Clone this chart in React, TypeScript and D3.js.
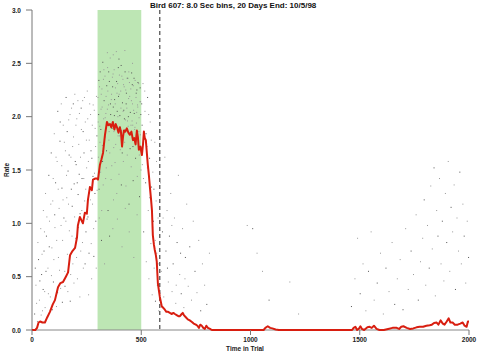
import React from 'react';
import * as d3 from 'd3';

const title = 'Bird 607: 8.0 Sec bins, 20 Days End: 10/5/98';
const xTicks = [0, 500, 1000, 1500, 2000];
const yTicks = [0, 0.5, 1.0, 1.5, 2.0, 2.5, 3.0];
const bandStart = 300;
const bandEnd = 500;
const markerTime = 585;

// smoothed rate (red line)
const rateTime = [0, 15, 23, 30, 37, 48, 59, 70, 82, 95, 105, 119, 130, 142, 155, 165, 174, 185, 197, 206, 210, 219, 226, 233, 242, 251, 256, 265, 274, 279, 290, 297, 302, 311, 318, 325, 334, 343, 350, 357, 363, 370, 377, 383, 389, 396, 402, 407, 412, 417, 421, 427, 434, 441, 448, 455, 462, 468, 474, 480, 485, 489, 496, 503, 508, 512, 516, 521, 526, 530, 535, 540, 545, 549, 553, 558, 562, 567, 571, 576, 580, 585, 590, 594, 600, 608, 615, 623, 631, 640, 647, 654, 662, 670, 677, 685, 690, 695, 704, 713, 722, 732, 740, 750, 757, 764, 770, 777, 784, 791, 798, 805, 815, 823, 900, 1000, 1060, 1068, 1079, 1090, 1100, 1115, 1130, 1300, 1400, 1465, 1472, 1480, 1488, 1495, 1503, 1510, 1520, 1535, 1545, 1555, 1565, 1577, 1590, 1610, 1630, 1650, 1669, 1680, 1690, 1700, 1715, 1730, 1745, 1760, 1774, 1790, 1805, 1820, 1830, 1840, 1852, 1860, 1870, 1880, 1888, 1898, 1907, 1915, 1925, 1935, 1948, 1960, 1971, 1980, 1989, 1995, 2000];
const rateValue = [0, 0, 0.02, 0.07, 0.08, 0.07, 0.07, 0.12, 0.17, 0.24, 0.28, 0.4, 0.44, 0.45, 0.5, 0.54, 0.7, 0.74, 0.77, 0.87, 0.98, 1.06, 1.03, 1.0, 1.1, 1.09, 1.22, 1.34, 1.31, 1.41, 1.42, 1.42, 1.41, 1.55, 1.6, 1.66, 1.83, 1.95, 1.92, 1.93, 1.9, 1.95, 1.88, 1.93, 1.9, 1.85, 1.9, 1.86, 1.72, 1.82, 1.87, 1.86, 1.89, 1.85, 1.83, 1.86, 1.78, 1.8, 1.74, 1.87, 1.8, 1.69, 1.72, 1.64, 1.74, 1.86, 1.8, 1.78, 1.65, 1.55, 1.45, 1.33, 1.22, 1.12, 0.89, 0.8, 0.75, 0.7, 0.64, 0.44, 0.38, 0.31, 0.26, 0.22, 0.21, 0.19, 0.17, 0.17, 0.16, 0.15, 0.16, 0.15, 0.14, 0.13, 0.13, 0.15, 0.16, 0.14, 0.12, 0.1, 0.09, 0.075, 0.06, 0.05, 0.04, 0.02, 0.05, 0.04, 0.02, 0.01, 0.04, 0.02, 0.01, 0, 0, 0, 0, 0.02, 0.035, 0.02, 0.015, 0.005, 0, 0, 0, 0, 0.02, 0.03, 0, 0.01, 0.035, 0.01, 0, 0.025, 0.03, 0.02, 0.04, 0.01, 0, 0, 0.01, 0.02, 0.02, 0.01, 0.03, 0.035, 0.02, 0.01, 0.015, 0.025, 0.03, 0.03, 0.04, 0.045, 0.05, 0.065, 0.07, 0.05, 0.09, 0.06, 0.05, 0.08, 0.11, 0.07, 0.07, 0.05, 0.05, 0.06, 0.07, 0.04, 0.03, 0.08, 0.08];

// individual trial rates (dots)
const dotsEarly = [[12,0.15],[18,0.42],[25,0.08],[30,0.66],[34,0.28],[40,0.95],[44,0.52],[48,0.18],[52,1.12],[55,0.74],[58,0.36],[62,1.28],[66,0.88],[70,0.12],[73,0.58],[77,1.45],[80,1.02],[84,0.31],[88,1.66],[91,0.77],[95,1.21],[98,0.45],[102,1.84],[105,0.96],[108,1.38],[112,0.22],[115,1.58],[118,2.05],[121,0.68],[124,1.14],[128,1.77],[131,0.39],[134,2.12],[137,1.33],[140,0.84],[143,1.92],[146,1.05],[150,0.55],[153,1.68],[156,2.18],[159,1.24],[162,0.71],[165,1.49],[168,1.97],[171,0.93],[175,0.27],[178,1.62],[181,2.08],[184,1.16],[187,0.62],[190,1.81],[193,1.37],[196,2.21],[199,0.86],[202,1.55],[205,1.98],[208,0.48],[211,1.27],[214,1.74],[217,2.03],[220,1.09],[223,0.74],[226,1.88],[229,1.42],[232,2.15],[235,0.58],[238,1.66],[241,1.21],[244,1.95],[247,0.92],[250,1.52],[253,2.24],[256,1.06],[259,0.33],[262,1.78],[265,1.34],[268,2.02],[271,0.81],[274,1.61],[277,1.18],[280,2.11],[283,0.69],[286,1.47],[289,1.89],[292,1.02],[295,2.19],[298,1.31]];
const dotsEarlyMore = [[15,0.58],[21,0.25],[27,0.82],[36,0.46],[42,0.14],[46,0.71],[51,0.38],[57,0.92],[60,0.21],[64,0.55],[68,1.06],[75,0.34],[79,0.78],[86,1.18],[89,0.51],[93,0.19],[97,1.42],[100,0.66],[104,1.08],[110,1.62],[113,0.84],[117,0.35],[120,1.32],[126,0.56],[129,1.95],[133,0.98],[136,1.54],[139,0.26],[142,1.22],[148,1.76],[151,0.41],[155,1.02],[158,1.45],[161,1.86],[164,0.36],[167,1.18],[170,1.64],[174,2.02],[177,0.52],[180,1.32],[183,0.88],[186,1.72],[189,2.12],[192,0.44],[195,1.06],[198,1.58],[201,1.92],[204,0.68],[207,1.38],[210,2.15],[213,0.96],[216,1.46],[219,0.31],[222,1.62],[225,2.08],[228,1.12],[231,0.82],[234,1.86],[237,1.42],[240,2.18],[243,0.62],[246,1.32],[249,1.78],[252,1.04],[255,1.98],[258,1.58],[261,0.72],[264,2.12],[267,1.22],[270,1.68],[273,0.48],[276,1.92],[279,1.44],[282,0.95],[285,2.06],[288,1.28],[291,1.72],[294,0.58],[297,1.82]];
const dotsBand = [[302,2.18],[304,1.62],[306,2.34],[308,1.05],[310,1.91],[312,2.42],[314,1.48],[316,2.07],[318,0.84],[320,2.26],[322,1.73],[324,2.51],[326,1.36],[328,1.98],[330,2.15],[332,0.62],[334,2.38],[336,1.84],[338,2.03],[340,1.52],[342,2.29],[344,1.95],[346,2.46],[348,1.12],[350,2.11],[352,1.78],[354,2.33],[356,1.66],[358,2.55],[360,2.02],[362,1.41],[364,2.21],[366,1.89],[368,2.37],[370,0.95],[372,2.09],[374,1.71],[376,2.44],[378,2.16],[380,1.57],[382,2.27],[384,1.93],[386,2.61],[388,1.28],[390,2.05],[392,2.31],[394,1.82],[396,2.19],[398,1.46],[400,2.39],[402,2.01],[404,1.69],[406,2.24],[408,2.48],[410,1.87],[412,0.78],[414,2.13],[416,2.35],[418,1.58],[420,2.06],[422,2.28],[424,1.76],[426,2.42],[428,1.97],[430,1.35],[432,2.22],[434,2.08],[436,1.64],[438,2.36],[440,1.91],[442,2.17],[444,1.18],[446,2.32],[448,1.85],[450,2.04],[452,2.26],[454,1.53],[456,2.41],[458,1.96],[460,2.12],[462,1.72],[464,2.29],[466,0.68],[468,2.03],[470,1.88],[472,2.34],[474,1.61],[476,2.18],[478,1.94],[480,2.25],[482,1.44],[484,2.09],[486,1.79],[488,2.31],[490,1.99],[492,1.25],[494,2.14],[496,1.83],[498,2.02],[303,1.95],[309,2.28],[315,1.88],[321,2.09],[327,2.35],[333,1.81],[339,2.19],[345,2.07],[351,2.42],[357,1.93],[363,2.16],[369,2.28],[375,1.86],[381,2.12],[387,2.33],[393,2.0],[399,2.21],[405,1.9],[411,2.38],[417,2.05],[423,1.98],[429,2.25],[435,2.36],[441,2.0],[447,2.19],[453,1.92],[459,2.3],[465,2.06],[471,1.9],[477,2.22],[483,2.11],[489,1.86],[495,2.27],[345,2.6],[372,2.58],[398,2.54],[425,2.62],[460,2.5]];
const dotsBandMore = [[305,2.02],[311,1.76],[317,2.21],[323,1.58],[329,2.44],[335,1.99],[341,1.68],[347,2.24],[353,1.86],[359,2.12],[365,1.54],[371,2.4],[377,2.01],[383,1.74],[389,2.22],[395,2.46],[401,1.82],[407,2.08],[413,1.66],[419,2.3],[425,1.88],[431,2.12],[437,1.96],[443,2.42],[449,1.7],[455,2.15],[461,1.92],[467,2.36],[473,1.78],[479,2.04],[485,2.32],[491,1.64],[497,2.14],[307,1.32],[319,1.12],[337,1.42],[355,0.88],[373,1.22],[391,1.04],[409,1.36],[427,1.14],[445,0.92],[463,1.4],[481,1.08],[499,1.5]];
const dotsLate = [[502,2.12],[505,1.55],[508,2.31],[511,0.92],[514,1.86],[517,2.05],[520,1.38],[523,0.64],[526,1.72],[529,2.18],[532,1.12],[535,0.48],[538,1.61],[541,1.95],[544,0.81],[547,1.34],[550,0.33],[553,1.48],[556,1.02],[559,0.58],[562,1.76],[565,0.27],[568,1.21],[571,0.72],[574,0.42],[577,1.05],[580,0.18],[504,1.92],[510,1.42],[516,2.24],[522,1.84],[528,1.52],[534,2.02],[540,1.24],[546,1.78],[552,0.96],[558,1.32],[564,0.84],[570,1.58],[576,0.62],[588,1.38],[592,0.55],[597,0.92],[603,0.31],[608,1.62],[613,0.74],[618,1.12],[624,0.45],[629,0.88],[635,1.28],[641,0.36],[646,0.62],[652,1.05],[658,0.25],[664,0.82],[670,1.45],[676,0.52],[683,0.34],[689,0.95],[695,0.21],[702,0.68],[708,1.18],[715,0.41],[722,0.78],[730,0.28],[738,1.02],[746,0.55],[755,0.35],[763,0.84],[772,0.18],[780,0.62],[790,0.42],[800,0.24],[812,0.72],[600,1.05],[620,0.58],[640,0.98],[660,0.42],[680,0.72],[700,0.48],[985,0.98],[1010,0.95],[1030,0.72],[1055,0.55],[1085,0.28],[1180,0.45],[1220,0.15]];
const dotsTail = [[1462,0.22],[1478,0.48],[1490,0.86],[1502,0.34],[1515,0.62],[1528,0.18],[1540,0.55],[1552,0.92],[1566,0.28],[1580,0.44],[1595,0.72],[1608,0.15],[1620,0.58],[1634,0.36],[1648,0.82],[1660,0.24],[1672,0.48],[1685,0.66],[1698,0.19],[1710,0.95],[1722,0.38],[1735,0.74],[1746,0.52],[1758,1.08],[1768,0.28],[1778,0.64],[1788,0.86],[1795,1.22],[1802,0.42],[1810,0.98],[1818,0.58],[1825,1.35],[1832,0.76],[1840,1.52],[1846,0.32],[1852,1.12],[1858,0.88],[1865,1.42],[1872,0.62],[1878,1.02],[1885,0.46],[1892,1.28],[1898,0.82],[1905,1.58],[1912,0.55],[1918,1.15],[1925,0.92],[1932,1.36],[1938,0.38],[1945,1.05],[1952,0.74],[1958,1.48],[1965,0.62],[1972,1.18],[1978,0.88],[1985,0.44],[1992,1.02],[1998,0.68]];

const W = 480;
const H = 352;
const left = 32;
const right = 469;
const top = 10;
const bottom = 330;
const font = 'Liberation Sans, Arial, sans-serif';

export default function App() {
  const x = d3.scaleLinear().domain([0, 2000]).range([left, right]);
  const y = d3.scaleLinear().domain([0, 3]).range([bottom, top]);

  const line = d3
    .line<number>()
    .x((d, i) => x(rateTime[i]))
    .y(d => y(d));

  const dots = dotsEarly.concat(dotsEarlyMore, dotsBand, dotsBandMore, dotsLate, dotsTail);

  return (
    <svg
      width={W}
      height={H}
      style={{ position: 'absolute', left: 0, top: 0, background: '#fff' }}
    >
      <rect
        x={x(bandStart)}
        y={y(3)}
        width={x(bandEnd) - x(bandStart)}
        height={y(0) - y(3)}
        fill="#bde6b4"
      />
      {dots.map((d, i) => (
        <rect
          key={i}
          x={x(d[0]) - 0.5}
          y={y(d[1]) - 0.5}
          width={1}
          height={1}
          fill={i % 3 === 0 ? '#555' : '#999'}
        />
      ))}
      <line
        x1={x(markerTime)}
        x2={x(markerTime)}
        y1={y(3)}
        y2={y(0)}
        stroke="#222"
        strokeWidth={1}
        strokeDasharray="4,3"
      />
      <line x1={left} x2={right} y1={y(0)} y2={y(0)} stroke="#888" strokeWidth={1} />
      <line x1={left} x2={left} y1={y(3)} y2={y(0)} stroke="#777" strokeWidth={1} />
      <path d={line(rateValue) || ''} fill="none" stroke="#d81e10" strokeWidth={2} strokeLinejoin="round" />
      {yTicks.map(t => (
        <g key={t}>
          <line x1={left - 6} x2={left} y1={y(t)} y2={y(t)} stroke="#777" />
          <text
            x={left - 11}
            y={y(t) + 2.5}
            textAnchor="end"
            fontSize={6.5}
            fontWeight="bold"
            fontFamily={font}
            fill="#222"
          >
            {t.toFixed(1)}
          </text>
        </g>
      ))}
      {xTicks.map(t => (
        <g key={t}>
          <line x1={x(t)} x2={x(t)} y1={y(0)} y2={y(0) + 5} stroke="#777" />
          <text
            x={x(t)}
            y={y(0) + 12}
            textAnchor="middle"
            fontSize={6.5}
            fontWeight="bold"
            fontFamily={font}
            fill="#222"
          >
            {t}
          </text>
        </g>
      ))}
      <text x={245} y={351} textAnchor="middle" fontSize={6.5} fontWeight="bold" fontFamily={font} fill="#222">
        Time in Trial
      </text>
      <text
        transform={`translate(9,170) rotate(-90)`}
        textAnchor="middle"
        fontSize={6.5}
        fontWeight="bold"
        fontFamily={font}
        fill="#222"
      >
        Rate
      </text>
      <text x={150} y={8} fontSize={8} fontWeight="bold" fontFamily={font} fill="#111">
        {title}
      </text>
    </svg>
  );
}
